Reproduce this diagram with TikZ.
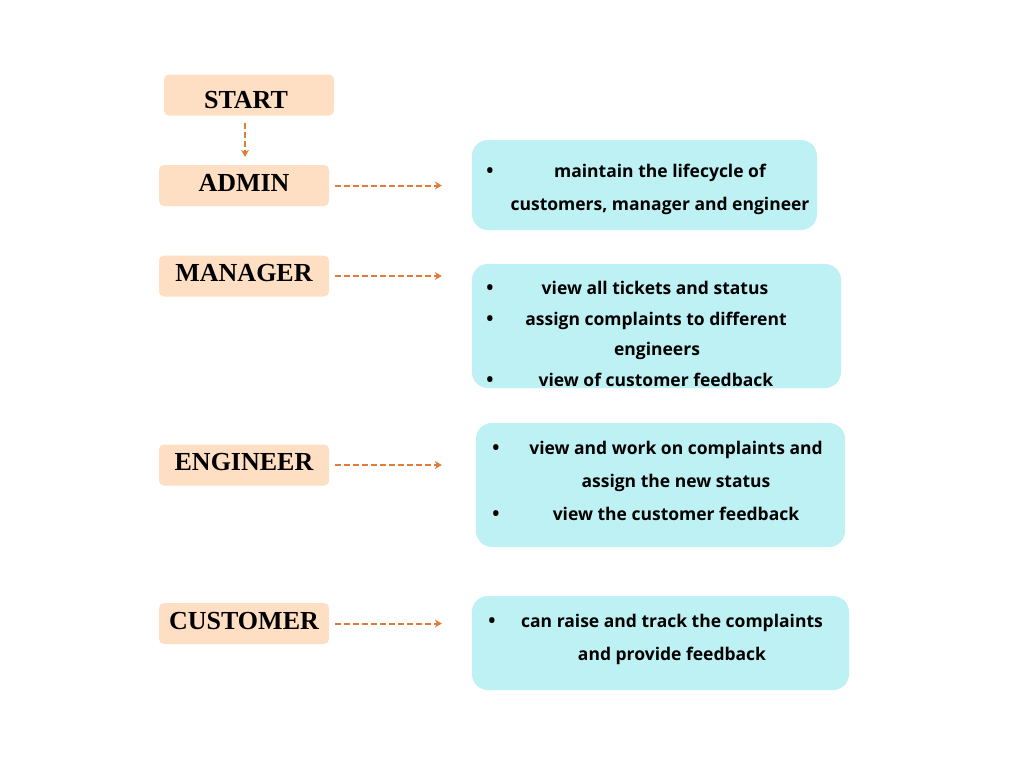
\documentclass[tikz,border=0pt]{standalone}
\usepackage{fontspec}
\setmainfont{Open Sans}
\newfontfamily\titlefont{Liberation Serif}
\usetikzlibrary{arrows.meta}
\definecolor{peach}{HTML}{FFDFC4}
\definecolor{cyanbox}{HTML}{BDF1F3}
\definecolor{arr}{HTML}{E07B39}
\begin{document}
\begin{tikzpicture}[x=1pt,y=-1pt,
 role/.style={fill=peach, rounded corners=5pt, minimum width=170pt, minimum height=41pt, inner sep=0pt},
 rolelabel/.style={inner sep=0pt, font=\titlefont\bfseries\fontsize{26}{28}\selectfont},
 infobox/.style={fill=cyanbox, rounded corners=16pt, inner sep=0pt},
 txt/.style={font=\bfseries\fontsize{17.5}{20}\selectfont, inner sep=0pt, anchor=base},
 blt/.style={font=\bfseries\fontsize{19}{20}\selectfont, inner sep=0pt, anchor=base},
 link/.style={arr, line width=2pt, dash pattern=on 6pt off 3pt, -{Stealth[length=7pt,width=8pt]}}
]
\useasboundingbox (0,0) rectangle (1024,768);
\fill[white] (0,0) rectangle (1024,768);

% role boxes
\node[role] (start) at (249,95) {};
\node[rolelabel] (startt) at (246,100) {START};
\node[role] (admin) at (244,185.5) {};
\node[rolelabel] (admint) at (244,183) {ADMIN};
\node[role] (manager) at (244,276) {};
\node[rolelabel] (managert) at (244,273) {MANAGER};
\node[role] (engineer) at (244,465) {};
\node[rolelabel] (engineert) at (244,462) {ENGINEER};
\node[role] (customer) at (244,623.5) {};
\node[rolelabel] (customert) at (244,621) {CUSTOMER};

% info boxes
\node[infobox, minimum width=345pt, minimum height=90pt] (b1) at (644.5,185) {};
\node[infobox, minimum width=369pt, minimum height=124pt] (b2) at (656.5,326) {};
\node[infobox, minimum width=369pt, minimum height=124pt] (b3) at (660.5,485) {};
\node[infobox, minimum width=377pt, minimum height=94pt] (b4) at (660.5,643) {};

% box 1 text
\node[blt] (b1d1) at (490,177) {\textbullet};
\node[txt] (b1l1) at (660,177) {maintain the lifecycle of};
\node[txt] (b1l2) at (660,210) {customers, manager and engineer};

% box 2 text
\node[blt] (b2d1) at (490,294) {\textbullet};
\node[txt] (b2l1) at (655,294) {view all tickets and status};
\node[blt] (b2d2) at (490,325) {\textbullet};
\node[txt] (b2l2) at (656,325) {assign complaints to different};
\node[txt] (b2l3) at (657,355) {engineers};
\node[blt] (b2d3) at (490,386) {\textbullet};
\node[txt] (b2l4) at (656,386) {view of customer feedback};

% box 3 text
\node[blt] (b3d1) at (496,454) {\textbullet};
\node[txt] (b3l1) at (676,454) {view and work on complaints and};
\node[txt] (b3l2) at (676,487) {assign the new status};
\node[blt] (b3d2) at (496,520) {\textbullet};
\node[txt] (b3l3) at (676,520) {view the customer feedback};

% box 4 text
\node[blt] (b4d1) at (492,627) {\textbullet};
\node[txt] (b4l1) at (672,627) {can raise and track the complaints};
\node[txt] (b4l2) at (672,660) {and provide feedback};

% connectors
\draw[link, shorten <=7pt, shorten >=8pt] ([xshift=1pt]admin.north |- start.south) -- ([xshift=1pt]admin.north);
\draw[link, shorten <=6pt, shorten >=30pt] (admin.east) -- (admin.east -| b1.west);
\draw[link, shorten <=6pt, shorten >=30pt] (manager.east) -- (manager.east -| b2.west);
\draw[link, shorten <=6pt, shorten >=34pt] (engineer.east) -- (engineer.east -| b3.west);
\draw[link, shorten <=6pt, shorten >=30pt] (customer.east) -- (customer.east -| b4.west);
\end{tikzpicture}
\end{document}
